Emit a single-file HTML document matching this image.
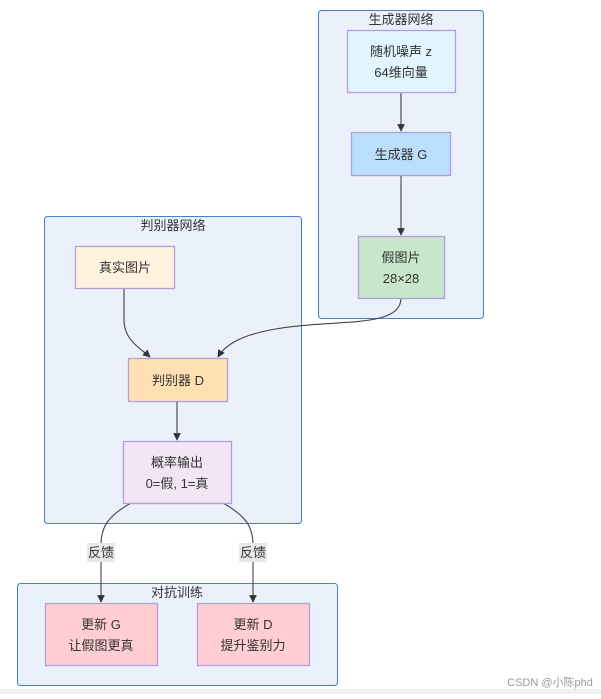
<!DOCTYPE html>
<html><head><meta charset="utf-8"><style>
body{margin:0;background:#fff;width:601px;height:694px;overflow:hidden}
text{font-family:"Liberation Sans","Noto Sans CJK SC",sans-serif;font-size:13px;fill:#333;text-anchor:middle}
.c{fill:#eaf1fb;stroke:#4a7fc1;stroke-width:1}
.n{stroke:#b39ddb;stroke-width:1.3}
.e{fill:none;stroke:#444;stroke-width:1.1}
</style></head><body>
<svg width="601" height="694" xmlns="http://www.w3.org/2000/svg">
<defs><marker id="a" viewBox="0 0 10 10" refX="9" refY="5" markerWidth="7" markerHeight="7" orient="auto"><path d="M0,0L10,5L0,10z" fill="#333"/></marker></defs>
<rect class="c" x="318.5" y="10.5" width="165" height="308" rx="3"/>
<text x="401" y="24">生成器网络</text>
<rect class="c" x="44.5" y="216.5" width="257" height="307" rx="3"/>
<text x="173" y="230">判别器网络</text>
<rect class="c" x="17.5" y="583.5" width="320" height="102" rx="3"/>
<text x="177" y="597">对抗训练</text>

<path class="e" d="M401,92V131" marker-end="url(#a)"/>
<path class="e" d="M401,175V235" marker-end="url(#a)"/>
<path class="e" d="M401,298C401,330 330,318 270,330C240,336 225,345 218,357" marker-end="url(#a)"/>
<path class="e" d="M124,288V320C124,340 140,348 150,357" marker-end="url(#a)"/>
<path class="e" d="M177,401V440" marker-end="url(#a)"/>
<path class="e" d="M131,503C110,515 101,525 101,545V602" marker-end="url(#a)"/>
<path class="e" d="M223,503C244,515 253,525 253,545V602" marker-end="url(#a)"/>
<rect x="87" y="543" width="28" height="19" fill="#e8e8e8"/>
<text x="101" y="557">反馈</text>
<rect x="239" y="543" width="28" height="19" fill="#e8e8e8"/>
<text x="253" y="557">反馈</text>

<rect class="n" x="347.5" y="30.5" width="108" height="62" fill="#e1f5fe"/>
<text x="401" y="56">随机噪声 z</text><text x="401" y="77">64维向量</text>
<rect class="n" x="351.5" y="132.5" width="99" height="43" fill="#bbdefb"/>
<text x="401" y="159">生成器 G</text>
<rect class="n" x="358.5" y="236.5" width="86" height="62" fill="#c8e6c9"/>
<text x="401" y="262">假图片</text><text x="401" y="283">28×28</text>
<rect class="n" x="75.5" y="246.5" width="99" height="42" fill="#fff3e0"/>
<text x="125" y="272">真实图片</text>
<rect class="n" x="128.5" y="358.5" width="99" height="43" fill="#ffe0b2"/>
<text x="178" y="385">判别器 D</text>
<rect class="n" x="123.5" y="441.5" width="108" height="62" fill="#f3e5f5"/>
<text x="177" y="467">概率输出</text><text x="177" y="488">0=假, 1=真</text>
<rect class="n" x="45.5" y="603.5" width="112" height="62" fill="#ffcdd2"/>
<text x="101" y="629">更新 G</text><text x="101" y="650">让假图更真</text>
<rect class="n" x="197.5" y="603.5" width="112" height="62" fill="#ffcdd2"/>
<text x="253" y="629">更新 D</text><text x="253" y="650">提升鉴别力</text>
<rect x="0" y="689" width="601" height="5" fill="#f0f0f0"/>
<text x="550" y="686" style="font-size:11px;fill:#999">CSDN @小陈phd</text>
</svg>
</body></html>
